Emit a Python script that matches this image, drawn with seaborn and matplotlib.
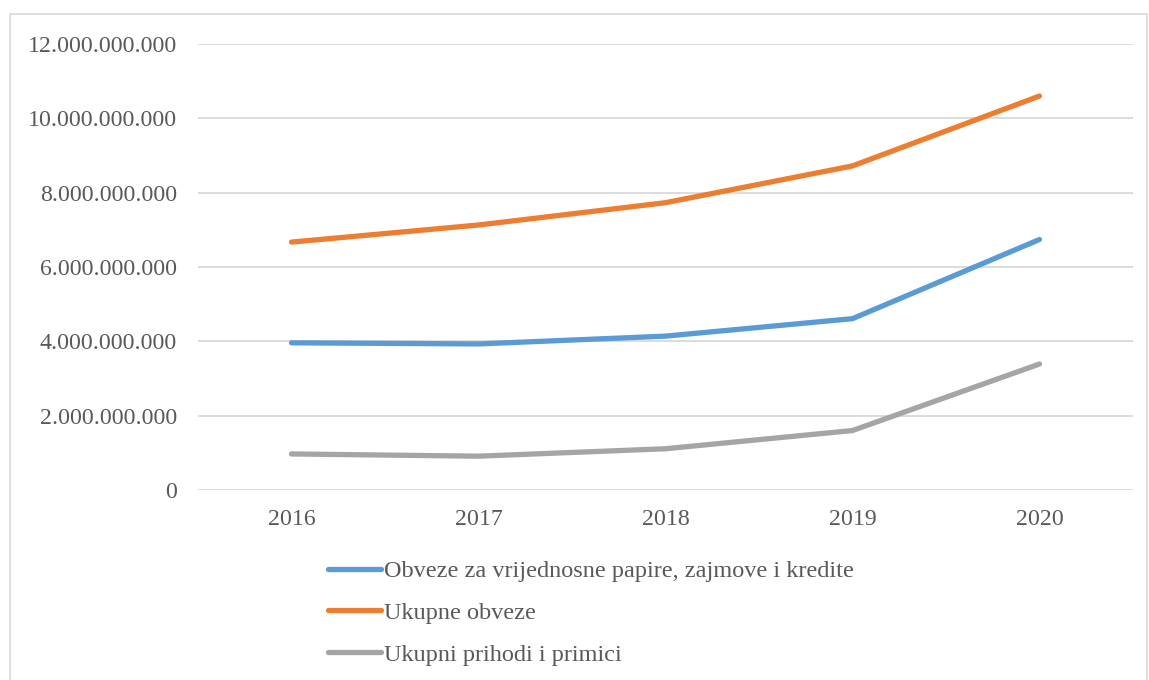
import pandas as pd
import seaborn as sns
import matplotlib.pyplot as plt
from matplotlib.patches import Rectangle
from matplotlib.ticker import FuncFormatter

# podaci ocitani s grafikona
godine = ["2016", "2017", "2018", "2019", "2020"]
obveze_vp = [3.96e9, 3.93e9, 4.14e9, 4.61e9, 6.74e9]
ukupne_obveze = [6.67e9, 7.13e9, 7.73e9, 8.72e9, 10.60e9]
prihodi_primici = [0.97e9, 0.91e9, 1.11e9, 1.60e9, 3.39e9]

serije = {
    "Obveze za vrijednosne papire, zajmove i kredite": obveze_vp,
    "Ukupne obveze": ukupne_obveze,
    "Ukupni prihodi i primici": prihodi_primici,
}
boje = ["#5B9BD5", "#ED7D31", "#A5A5A5"]

df = pd.DataFrame(
    [(g, naziv, v) for naziv, vals in serije.items() for g, v in zip(godine, vals)],
    columns=["Godina", "Serija", "Iznos"],
)

sns.set_style("white")
plt.rcParams["font.family"] = ["Liberation Serif", "DejaVu Serif"]
tekst = "#595959"

fig = plt.figure(figsize=(11.49, 6.8), dpi=100)
ax = fig.add_axes([198 / 1149, 1 - 490 / 680, (1133 - 198) / 1149, (490 - 44) / 680])

sns.lineplot(data=df, x="Godina", y="Iznos", hue="Serija", palette=boje,
             linewidth=3.8, ax=ax, sort=False)
for ln in ax.lines:
    ln.set_solid_capstyle("round")

ax.set_xlim(-0.5, 4.5)
ax.set_ylim(0, 12e9)
ax.set_yticks([i * 2e9 for i in range(7)])
ax.yaxis.set_major_formatter(FuncFormatter(lambda v, p: f"{int(v):,}".replace(",", ".")))
ax.grid(axis="y", color="#d9d9d9", linewidth=1.3)
ax.set_axisbelow(True)
for s in ax.spines.values():
    s.set_visible(False)
ax.tick_params(axis="both", length=0, labelsize=17.2, labelcolor=tekst)
ax.tick_params(axis="y", pad=15)
ax.tick_params(axis="x", pad=14)
ax.set_xlabel("")
ax.set_ylabel("")

ax.legend(loc="upper left", bbox_to_anchor=(328 / 1149, 1 - 560 / 680),
          bbox_transform=fig.transFigure, frameon=False, fontsize=17.5,
          handlelength=2.2, handletextpad=0.1, labelspacing=0.82,
          labelcolor=tekst, borderpad=0, borderaxespad=0)

# okvir oko grafikona
fig.patches.append(Rectangle((10, -5), 1137, 680 - 14 + 5, transform=None,
                             fill=False, edgecolor="#d9d9d9", linewidth=1.2))

fig.savefig("out.png", dpi=100)
